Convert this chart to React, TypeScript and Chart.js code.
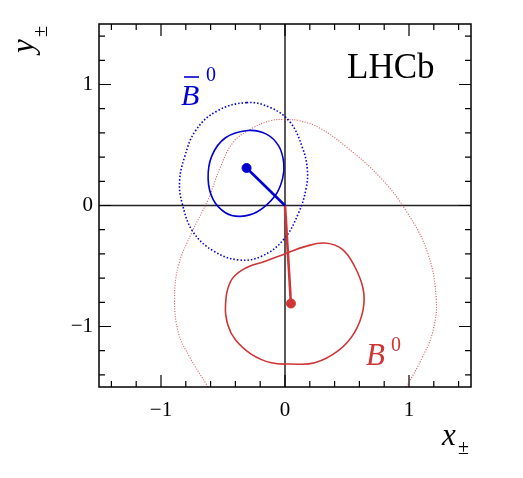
import React, { useEffect, useRef } from "react";
import { Chart, registerables } from "chart.js";

Chart.register(...registerables);

const FONT = '"Liberation Serif", "Times New Roman", serif';
const BLUE = "#0000d0";
const RED = "#d03434";

// Axis range and tick positions / labels
const AXIS_MIN = -1.5;
const AXIS_MAX = 1.5;
const TICK_VALUES = [-1.4, -1.2, -1.0, -0.8, -0.6, -0.4, -0.2, 0, 0.2, 0.4, 0.6, 0.8, 1.0, 1.2, 1.4];
const MAJOR_TICKS = [-1, 0, 1];
const MAJOR_LABELS = ["\u22121", "0", "1"];

// Best-fit points
const bbarPoint = [{ x: -0.31, y: 0.31 }];
const b0Point = [{ x: 0.048, y: -0.81 }];
const origin = { x: 0, y: 0 };

// B-bar 1 sigma contour (closed)
const bbarSolidX = [-0.30, -0.15, -0.05, -0.01, -0.02, -0.08, -0.22, -0.36, -0.48, -0.58, -0.62, -0.59, -0.48];
const bbarSolidY = [0.62, 0.59, 0.49, 0.35, 0.22, 0.08, -0.05, -0.09, -0.06, 0.05, 0.22, 0.41, 0.56];

// B-bar 2 sigma contour (closed)
const bbarDotX = [-0.31, -0.12, 0.04, 0.14, 0.18, 0.17, 0.11, -0.01, -0.19, -0.37, -0.57, -0.74, -0.83, -0.85, -0.81, -0.72, -0.55];
const bbarDotY = [0.85, 0.81, 0.69, 0.48, 0.30, 0.14, -0.06, -0.28, -0.42, -0.45, -0.38, -0.22, 0.02, 0.20, 0.40, 0.62, 0.78];

// B0 1 sigma contour (closed)
const b0SolidX = [0.0, 0.16, 0.32, 0.46, 0.56, 0.63, 0.63, 0.56, 0.43, 0.24, 0.05, -0.11, -0.27, -0.40, -0.46, -0.48, -0.44, -0.34, -0.16];
const b0SolidY = [-0.40, -0.34, -0.31, -0.36, -0.50, -0.69, -0.86, -1.05, -1.20, -1.30, -1.31, -1.30, -1.23, -1.11, -0.99, -0.83, -0.63, -0.53, -0.46];

// B0 2 sigma contour (open, leaves the frame at the bottom)
const b0DotX = [-0.62, -0.77, -0.86, -0.89, -0.86, -0.75, -0.62, -0.52, -0.42, -0.28, -0.12, 0.0, 0.12, 0.28, 0.50, 0.77, 0.98, 1.15, 1.22, 1.19, 1.11, 0.98];
const b0DotY = [-1.5, -1.25, -1.05, -0.78, -0.50, -0.22, 0.05, 0.32, 0.52, 0.63, 0.70, 0.71, 0.70, 0.64, 0.48, 0.23, -0.05, -0.39, -0.78, -1.05, -1.25, -1.5];

const zip = (xs: number[], ys: number[]) => xs.map((x, i) => ({ x, y: ys[i] }));

const labelFor = (value: any) => {
  const v = Number(value);
  const idx = MAJOR_TICKS.findIndex((m) => Math.abs(m - v) < 1e-6);
  return idx >= 0 ? MAJOR_LABELS[idx] : "";
};

// make closed contours smooth closed splines
const loopPlugin = {
  id: "loopPlugin",
  afterDatasetUpdate(chart: any, args: any) {
    const ds: any = chart.data.datasets[args.index];
    if (ds && ds.closedContour && args.meta && args.meta.dataset) {
      args.meta.dataset._loop = true;
      args.meta.dataset._fullLoop = true;
    }
  },
};

const framePlugin = {
  id: "framePlugin",
  afterDraw(chart: any) {
    const { ctx, chartArea: a, scales } = chart;
    const xs = scales.x;
    const ys = scales.y;
    ctx.save();
    ctx.strokeStyle = "#000";
    ctx.lineWidth = 1.5;
    ctx.strokeRect(a.left, a.top, a.right - a.left, a.bottom - a.top);
    ctx.lineWidth = 1.2;
    const isMajor = (v: number) => MAJOR_TICKS.some((m) => Math.abs(m - v) < 1e-6);
    xs.ticks.forEach((t: any) => {
      const v = t.value;
      const px = xs.getPixelForValue(v);
      const len = isMajor(v) ? 12 : 6;
      ctx.beginPath();
      ctx.moveTo(px, a.bottom);
      ctx.lineTo(px, a.bottom - len);
      ctx.moveTo(px, a.top);
      ctx.lineTo(px, a.top + len);
      ctx.stroke();
    });
    ys.ticks.forEach((t: any) => {
      const v = t.value;
      const py = ys.getPixelForValue(v);
      const len = isMajor(v) ? 12 : 6;
      ctx.beginPath();
      ctx.moveTo(a.left, py);
      ctx.lineTo(a.left + len, py);
      ctx.moveTo(a.right, py);
      ctx.lineTo(a.right - len, py);
      ctx.stroke();
    });

    ctx.fillStyle = "#000";
    ctx.textAlign = "left";
    ctx.textBaseline = "alphabetic";
    ctx.font = `35px ${FONT}`;
    ctx.fillText("LHCb", 347, 78);

    // B-bar 0
    ctx.fillStyle = BLUE;
    ctx.strokeStyle = BLUE;
    ctx.font = `italic 30px ${FONT}`;
    ctx.fillText("B", 181, 105);
    ctx.lineWidth = 1.6;
    ctx.beginPath();
    ctx.moveTo(184, 77);
    ctx.lineTo(199, 77);
    ctx.stroke();
    ctx.font = `20px ${FONT}`;
    ctx.fillText("0", 206, 81);

    // B0
    ctx.fillStyle = RED;
    ctx.font = `italic 31px ${FONT}`;
    ctx.fillText("B", 366, 365);
    ctx.font = `20px ${FONT}`;
    ctx.fillText("0", 391, 351);

    // x axis title
    ctx.fillStyle = "#000";
    ctx.font = `italic 31px ${FONT}`;
    ctx.fillText("x", 442, 445);
    ctx.font = `20px ${FONT}`;
    ctx.fillText("\u00b1", 458, 454);

    // y axis title (rotated)
    ctx.save();
    ctx.translate(33, 53);
    ctx.rotate(-Math.PI / 2);
    ctx.font = `italic 31px ${FONT}`;
    ctx.fillText("y", 0, 0);
    ctx.font = `20px ${FONT}`;
    ctx.fillText("\u00b1", 16, 14);
    ctx.restore();

    ctx.restore();
  },
};

export default function App() {
  const ref = useRef<HTMLCanvasElement | null>(null);

  useEffect(() => {
    if (!ref.current) return;
    const lineDs = (data: any[], color: string, width: number, dash: number[], extra: any = {}) => ({
      type: "line",
      data,
      showLine: true,
      borderColor: color,
      borderWidth: width,
      borderDash: dash,
      pointRadius: 0,
      pointHoverRadius: 0,
      tension: 0.4,
      fill: false,
      ...extra,
    });
    const closed = { closedContour: true, spanGaps: true, order: 2 };
    const chart = new Chart(ref.current, {
      type: "scatter",
      data: {
        datasets: [
          {
            type: "scatter",
            data: bbarPoint,
            backgroundColor: BLUE,
            borderColor: BLUE,
            pointRadius: 4.5,
            order: 0,
          } as any,
          {
            type: "scatter",
            data: b0Point,
            backgroundColor: RED,
            borderColor: RED,
            pointRadius: 4.5,
            order: 0,
          } as any,
          lineDs([bbarPoint[0], origin], BLUE, 2.6, [], { tension: 0, order: 1 }),
          lineDs([b0Point[0], origin], RED, 2.6, [], { tension: 0, order: 1 }),
          lineDs(zip(bbarSolidX, bbarSolidY), BLUE, 1.6, [], closed),
          lineDs(zip(b0SolidX, b0SolidY), RED, 1.6, [], closed),
          lineDs(zip(bbarDotX, bbarDotY), BLUE, 1.6, [1.5, 2], { ...closed, order: 3 }),
          lineDs(zip(b0DotX, b0DotY), "rgba(208,52,52,0.85)", 1.1, [1, 1.6], { order: 3 }),
          lineDs([{ x: 0, y: AXIS_MIN }, { x: 0, y: AXIS_MAX }], "#222", 1.5, [], { tension: 0, order: 4 }),
          lineDs([{ x: AXIS_MIN, y: 0 }, { x: AXIS_MAX, y: 0 }], "#222", 1.5, [], { tension: 0, order: 4 }),
        ] as any,
      },
      options: {
        animation: false,
        responsive: false,
        devicePixelRatio: 1,
        events: [],
        layout: { padding: { left: 0, top: 24, right: 52, bottom: 0 } },
        plugins: { legend: { display: false }, tooltip: { enabled: false }, title: { display: false } },
        scales: {
          x: {
            type: "linear",
            position: "bottom",
            min: AXIS_MIN,
            max: AXIS_MAX,
            grid: { display: false, drawTicks: false },
            border: { display: false },
            afterBuildTicks: (s: any) => {
              s.ticks = TICK_VALUES.map((v) => ({ value: v }));
            },
            ticks: {
              autoSkip: false,
              maxRotation: 0,
              padding: 11,
              color: "#000",
              font: { family: FONT, size: 21 },
              callback: labelFor,
            },
            afterFit: (s: any) => {
              s.height = 91;
            },
          },
          y: {
            type: "linear",
            position: "left",
            min: AXIS_MIN,
            max: AXIS_MAX,
            grid: { display: false, drawTicks: false },
            border: { display: false },
            afterBuildTicks: (s: any) => {
              s.ticks = TICK_VALUES.map((v) => ({ value: v }));
            },
            ticks: {
              autoSkip: false,
              padding: 6,
              color: "#000",
              font: { family: FONT, size: 21 },
              callback: labelFor,
            },
            afterFit: (s: any) => {
              s.width = 99;
            },
          },
        },
      } as any,
      plugins: [loopPlugin, framePlugin],
    });
    return () => chart.destroy();
  }, []);

  return (
    <div style={{ position: "fixed", left: 0, top: 0, width: 523, height: 478, background: "#fff" }}>
      <canvas ref={ref} width={523} height={478} style={{ width: 523, height: 478, display: "block" }} />
    </div>
  );
}
